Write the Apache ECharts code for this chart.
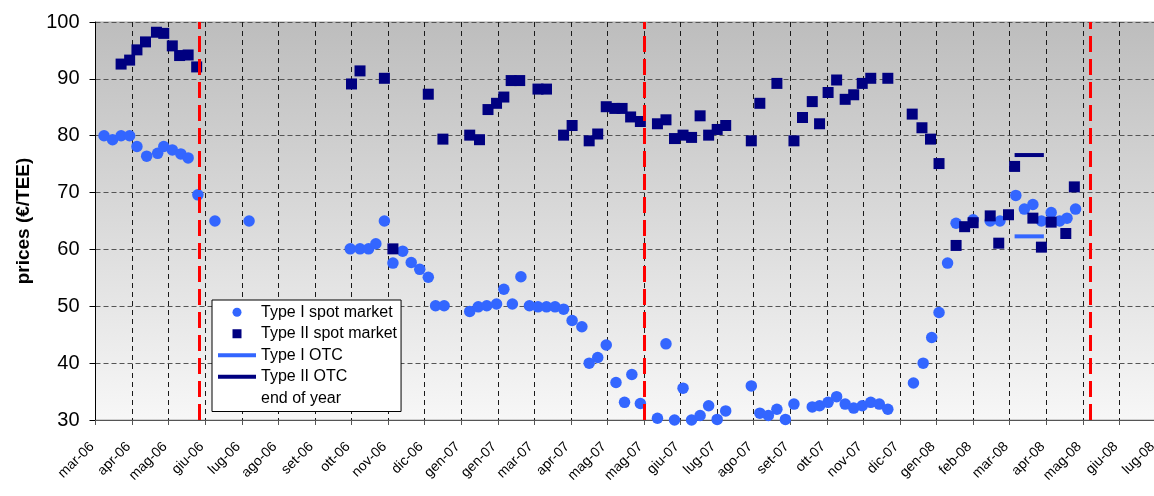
<!DOCTYPE html>
<html><head><meta charset="utf-8">
<script src="https://cdn.jsdelivr.net/npm/echarts@6/dist/echarts.min.js"></script>
<style>html,body{margin:0;padding:0;background:#fff}#c{width:1154px;height:496px}</style>
</head><body><div id="c"></div>
<script>
// x values are days counted from 7 Mar 2006 (first axis tick); axis ticks every 30 days
const tickLabels = ['mar-06','apr-06','mag-06','giu-06','lug-06','ago-06','set-06','ott-06','nov-06','dic-06',
  'gen-07','gen-07','mar-07','apr-07','mag-07','mag-07','giu-07','lug-07','ago-07','set-07',
  'ott-07','nov-07','dic-07','gen-08','feb-08','mar-08','apr-08','mag-08','giu-08','lug-08'];

const typeIDays = [7,14,21,28,34,42,51,56,63,70,76,84,98,126,
  209,217,224,230,237,244,252,259,266,273,279,286,
  307,314,321,329,335,342,349,356,363,370,377,384,391,399,405,412,419,427,434,440,447,
  461,468,475,482,489,496,503,510,517,538,545,552,559,566,573,
  588,594,601,608,615,622,629,636,643,650,
  671,679,686,692,699,706,720,734,742,755,762,769,776,784,791,797,804];
const typeIPrices = [80.0,79.3,80.0,80.0,78.1,76.4,76.9,78.1,77.5,76.8,76.1,69.6,65.0,65.0,
  60.1,60.1,60.1,61.0,65.0,57.6,59.7,57.7,56.5,55.1,50.1,50.1,
  49.1,49.9,50.1,50.4,53.0,50.4,55.2,50.1,49.9,49.9,49.9,49.5,47.5,46.4,40.0,41.0,43.2,36.6,33.1,38.0,32.9,
  30.3,43.4,30.0,35.6,30.0,30.8,32.5,30.1,31.6,36.0,31.2,30.8,31.9,30.1,32.8,
  32.3,32.5,33.1,34.1,32.8,32.1,32.5,33.1,32.8,31.9,
  36.5,40.0,44.5,48.9,57.6,64.6,65.2,65.0,65.0,69.5,67.1,67.9,65.0,66.5,65.0,65.5,67.1];

const typeIIDays = [21,28,34,41,50,56,63,69,76,83,
  210,217,237,244,273,285,307,315,322,329,335,341,348,363,370,384,391,405,412,419,426,432,439,447,
  461,468,475,482,489,496,503,510,517,538,545,559,573,580,588,594,601,608,615,622,629,636,650,
  670,678,685,692,706,713,720,734,741,749,754,769,776,784,796,803];
const typeIIPrices = [92.6,93.3,95.1,96.5,98.2,98.0,95.8,94.1,94.2,92.1,
  89.1,91.4,90.1,60.1,87.3,79.4,80.1,79.3,84.6,85.7,86.8,89.7,89.7,88.2,88.2,80.1,81.8,79.1,80.3,85.1,84.8,84.8,83.3,82.5,
  82.1,82.8,79.5,80.1,79.7,83.5,80.1,81.1,81.8,79.1,85.7,89.2,79.1,83.2,86.0,82.1,87.6,89.8,86.4,87.2,89.2,90.1,90.1,
  83.8,81.4,79.4,75.1,60.7,64.0,64.7,65.9,61.1,66.1,74.6,65.5,60.4,64.8,62.8,71.0];

const typeIOtcDays = [754, 778];
const typeIOtcPrices = [62.3, 62.3];
const typeIIOtcDays = [754, 778];
const typeIIOtcPrices = [76.6, 76.6];

const endOfYearDays = [85, 450, 816];

const FONT = '"Liberation Sans", Arial, sans-serif';
const pairs = (xs, ys) => xs.map((x, i) => [x, ys[i]]);

const chart = echarts.init(document.getElementById('c'), null, {renderer: 'canvas'});
chart.setOption({
  animation: false,
  grid: {
    left: 95.5, top: 22, right: -2, bottom: 76,
    containLabel: false, outerBoundsMode: 'none',
    show: true,
    backgroundColor: {type: 'linear', x: 0, y: 0, x2: 0, y2: 1,
      colorStops: [{offset: 0, color: '#bdbdbd'}, {offset: 1, color: '#f7f7f7'}]},
    borderColor: '#a8a8a8', borderWidth: 1
  },
  legend: {
    orient: 'vertical', left: 212, top: 300,
    padding: [4, 4, 5, 6], itemWidth: 38, itemHeight: 9, itemGap: 5,
    symbolKeepAspect: true,
    backgroundColor: '#fff', borderColor: '#000', borderWidth: 1,
    selectedMode: false,
    textStyle: {fontSize: 16, color: '#000', lineHeight: 16.5, fontFamily: FONT},
    data: [
      {name: 'Type I spot market', icon: 'circle'},
      {name: 'Type II spot market', icon: 'path://M0,0H9V9H0Z'},
      {name: 'Type I OTC', icon: 'path://M0,0H38V4H0Z'},
      {name: 'Type II OTC', icon: 'path://M0,0H38V4H0Z'},
      {name: 'end of year', icon: 'none'}
    ]
  },
  xAxis: {
    type: 'value', min: 0, max: 870, interval: 30,
    axisLine: {lineStyle: {color: '#555', width: 1}},
    axisTick: {show: true, length: 5, lineStyle: {color: '#555'}},
    axisLabel: {
      rotate: 45, margin: 21, fontSize: 14, color: '#000', fontFamily: FONT,
      padding: [0, 5, 0, 0],
      formatter: v => tickLabels[Math.round(v / 30)] || ''
    },
    splitLine: {show: true, lineStyle: {color: '#1a1a1a', width: 1, type: [5, 4]}}
  },
  yAxis: {
    type: 'value', min: 30, max: 100, interval: 10,
    name: 'prices (€/TEE)', nameLocation: 'middle', nameGap: 62,
    nameTextStyle: {fontSize: 19, fontWeight: 'bold', color: '#000', fontFamily: FONT},
    axisLine: {show: true, lineStyle: {color: '#000', width: 1}},
    axisTick: {show: true, length: 6, lineStyle: {color: '#000'}},
    axisLabel: {margin: 16, fontSize: 20, color: '#000', fontFamily: FONT},
    splitLine: {show: true, lineStyle: {color: '#555', width: 1, type: [5, 3]}}
  },
  series: [
    {name: 'Type I spot market', type: 'scatter', symbol: 'circle', symbolSize: 11.5,
      itemStyle: {color: '#3366ff', opacity: 1}, data: pairs(typeIDays, typeIPrices), z: 3},
    {name: 'Type II spot market', type: 'scatter', symbol: 'rect', symbolSize: 11,
      itemStyle: {color: '#000080', opacity: 1}, data: pairs(typeIIDays, typeIIPrices), z: 4},
    {name: 'Type I OTC', type: 'line', symbol: 'none', color: '#3366ff',
      lineStyle: {color: '#3366ff', width: 4}, data: pairs(typeIOtcDays, typeIOtcPrices), z: 4},
    {name: 'Type II OTC', type: 'line', symbol: 'none', color: '#000080',
      lineStyle: {color: '#000080', width: 4}, data: pairs(typeIIOtcDays, typeIIOtcPrices), z: 4},
    {name: 'end of year', type: 'scatter', data: [], z: 5, color: '#ff0000',
      markLine: {silent: true, symbol: ['none', 'none'], label: {show: false},
        lineStyle: {color: '#ff0000', width: 3, type: [16, 7]},
        data: endOfYearDays.map(d => ({xAxis: d}))}}
  ]
});
</script>
</body></html>
